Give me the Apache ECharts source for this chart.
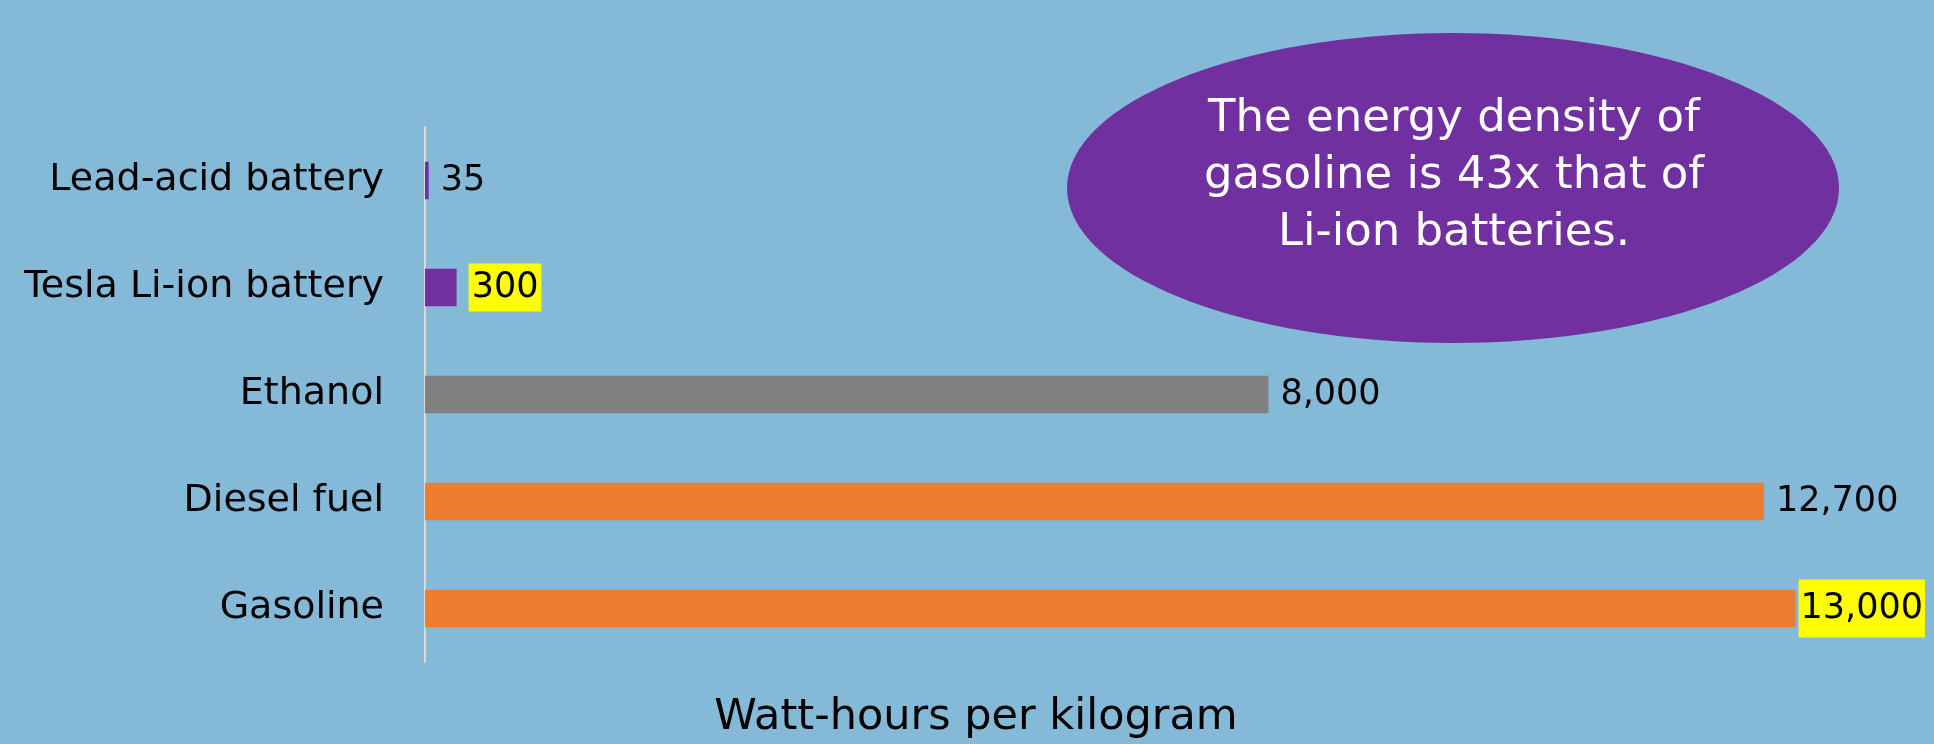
<!DOCTYPE html>
<html lang="en">
<head>
    <meta charset="UTF-8">
    <title>Energy density</title>
    <script src="https://cdn.jsdelivr.net/npm/echarts@6/dist/echarts.min.js"></script>
    <style>
        html, body { margin: 0; padding: 0; background: #84B9D7; }
        #barChart { width: 1934px; height: 744px; }
    </style>
</head>
<body>
<div id="barChart"></div>
<script>
    // data
    let categories = ['Lead-acid battery', 'Tesla Li-ion battery', 'Ethanol', 'Diesel fuel', 'Gasoline'];
    let values = [35, 300, 8000, 12700, 13000];
    let highlighted = ['Tesla Li-ion battery', 'Gasoline'];
    let noteLines = ['The energy density of', 'gasoline is 43x that of', 'Li-ion batteries.'];
    let axisTitle = 'Watt-hours per kilogram';

    let barColors = {
        'Lead-acid battery': '#7030A0',
        'Tesla Li-ion battery': '#7030A0',
        'Ethanol': '#808080',
        'Diesel fuel': '#ED7D31',
        'Gasoline': '#ED7D31'
    };
    // yellow boxes are not the same size in the original
    let boxStyle = {
        'Tesla Li-ion battery': {padding: [6, 3, 7, 3], distance: 12},
        'Gasoline': {padding: [11, 2, 12, 2], distance: 3}
    };
    let font = '"DejaVu Sans", sans-serif';

    let myBarChart = echarts.init(document.getElementById('barChart'));

    let barData = categories.map(function (name, i) {
        let item = {value: values[i], name: name, itemStyle: {color: barColors[name]}};
        if (highlighted.indexOf(name) >= 0) {
            item.label = {
                backgroundColor: '#FFFF00',
                padding: boxStyle[name].padding,
                distance: boxStyle[name].distance
            };
        }
        return item;
    });

    let barOption = {
        backgroundColor: '#84B9D7',
        grid: {left: 425, right: 33, top: 127, bottom: 82},
        xAxis: {
            type: 'value',
            min: 0,
            max: 14000,
            axisLine: {show: false},
            axisTick: {show: false},
            axisLabel: {show: false},
            splitLine: {show: false}
        },
        yAxis: {
            type: 'category',
            inverse: true,
            data: categories,
            axisLine: {show: true, lineStyle: {color: '#D9D9D9', width: 2}},
            axisTick: {show: false},
            axisLabel: {
                margin: 41,
                fontSize: 38,
                color: '#000',
                fontFamily: font
            }
        },
        series: [{
            type: 'bar',
            data: barData,
            barWidth: '35%',
            label: {
                show: true,
                position: 'right',
                distance: 12,
                fontSize: 35,
                color: '#000',
                fontFamily: font,
                formatter: function (p) {
                    return p.value.toLocaleString('en-US');
                }
            }
        }],
        graphic: [
            {
                type: 'ellipse',
                shape: {cx: 1453, cy: 188, rx: 386, ry: 155},
                style: {fill: '#7030A0'}
            },
            {
                type: 'text',
                x: 1454,
                y: 176,
                style: {
                    text: noteLines.join('\n'),
                    fill: '#fff',
                    fontSize: 45,
                    lineHeight: 57,
                    fontFamily: font,
                    align: 'center',
                    verticalAlign: 'middle'
                }
            },
            {
                type: 'text',
                x: 976,
                y: 718,
                style: {
                    text: axisTitle,
                    fill: '#000',
                    fontSize: 43,
                    fontFamily: font,
                    align: 'center',
                    verticalAlign: 'middle'
                }
            }
        ]
    };
    barOption && myBarChart.setOption(barOption);
</script>
</body>
</html>
